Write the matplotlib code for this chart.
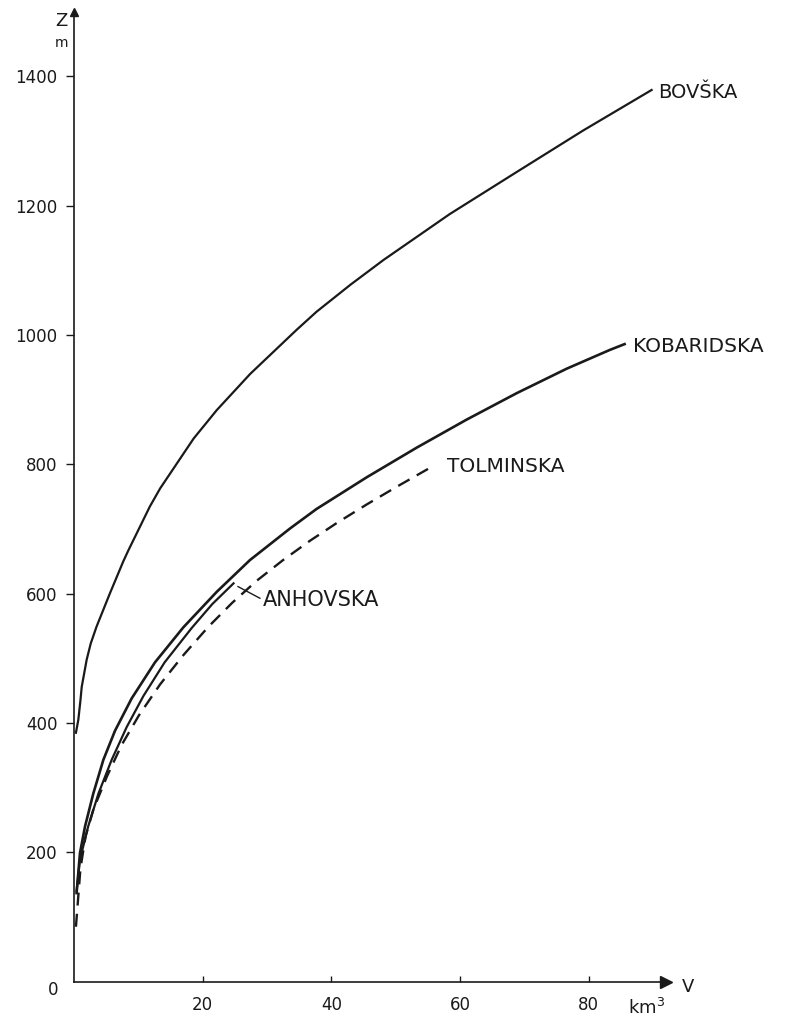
import matplotlib
matplotlib.use("Agg")
import matplotlib.pyplot as plt

# volume V (km3) vs elevation Z (m)
bov_v = [0.3, 0.67, 1.0, 1.2, 1.97, 2.6, 3.5, 5.6, 7.66, 8.45, 11.8, 13.4, 18.6, 22.2,
         27.4, 34.6, 37.7, 43.0, 48.1, 58.4, 68.8, 79.1, 89.8]
bov_z = [385, 405, 435, 456, 498, 523, 549, 601, 650, 667, 735, 763, 840, 884,
         940, 1008, 1036, 1078, 1116, 1187, 1252, 1316, 1379]

kob_v = [0.4, 0.93, 1.71, 3.0, 4.56, 6.37, 8.96, 12.6, 17.0, 22.2, 27.35, 33.6,
         37.7, 45.5, 53.3, 61.0, 68.8, 76.6, 83.3, 85.6]
kob_z = [137, 199, 240, 291, 343, 388, 438, 494, 548, 603, 652, 701,
         731, 780, 826, 869, 910, 948, 977, 986]

anh_v = [0.4, 0.93, 2.2, 3.8, 5.85, 8.2, 10.8, 14.1, 18.3, 21.5, 24.8]
anh_z = [140, 189, 240, 291, 343, 394, 442, 494, 547, 584, 616]

tol_v = [0.3, 1.0, 1.8, 3.0, 5.1, 7.4, 10.1, 13.4, 17.0, 20.9, 24.6, 28.4,
         32.5, 36.7, 40.8, 45.5, 50.1, 56.1]
tol_z = [85, 175, 225, 266, 317, 366, 412, 460, 505, 549, 586, 620,
         652, 682, 709, 738, 765, 799]

x_ticks = [20, 40, 60, 80]
y_ticks = [200, 400, 600, 800, 1000, 1200, 1400]

ink = "#1a1a1a"
plt.rcParams['font.family'] = ['DejaVu Sans']

fig = plt.figure(figsize=(7.89, 10.21), dpi=100)
ax = fig.add_axes([0.0938, 0.0385, 0.750, 0.950])

ax.plot(bov_v, bov_z, color=ink, lw=1.6, solid_joinstyle='round')
ax.plot(kob_v, kob_z, color=ink, lw=1.9, solid_joinstyle='round')
ax.plot(anh_v, anh_z, color=ink, lw=1.6, solid_joinstyle='round')
ax.plot(tol_v, tol_z, color=ink, lw=1.7, dashes=(5.5, 3.5))

ax.set_xlim(0, 92)
ax.set_ylim(0, 1500)

for s in ['top', 'right']:
    ax.spines[s].set_visible(False)
for s in ['left', 'bottom']:
    ax.spines[s].set_color(ink)
    ax.spines[s].set_linewidth(1.2)

# arrow heads on the axes
ax.plot(1, 0, '>', color=ink, ms=9, transform=ax.transAxes, clip_on=False)
ax.plot(0, 1, '^', color=ink, ms=6, transform=ax.transAxes, clip_on=False)

ax.set_xticks(x_ticks)
ax.set_yticks(y_ticks)
ax.tick_params(axis='x', direction='in', length=4, width=1, pad=10, labelsize=12, colors=ink)
ax.tick_params(axis='y', direction='out', length=6, width=1, pad=6, labelsize=12, colors=ink)

ax.text(-3.3, -13, "0", ha='center', va='center', fontsize=12, color=ink, clip_on=False)
ax.text(-1.9, 1485, "Z", ha='center', va='center', fontsize=13, color=ink)
ax.text(-1.9, 1452, "m", ha='center', va='center', fontsize=10, color=ink)
ax.text(95.4, -8, "V", ha='center', va='center', fontsize=13, color=ink, clip_on=False)
ax.text(89, -40, "km$^3$", ha='center', va='center', fontsize=13, color=ink, clip_on=False)

ax.text(90.8, 1375, "BOVŠKA", ha='left', va='center', fontsize=14, color=ink, clip_on=False)
ax.text(86.9, 982, "KOBARIDSKA", ha='left', va='center', fontsize=14.5, color=ink, clip_on=False)
ax.text(58.0, 796, "TOLMINSKA", ha='left', va='center', fontsize=14.5, color=ink)
ax.text(29.4, 590, "ANHOVSKA", ha='left', va='center', fontsize=15, color=ink)
ax.plot([25.5, 28.9], [611, 593], color=ink, lw=1)

fig.savefig("out.png", dpi=100, facecolor='white')
